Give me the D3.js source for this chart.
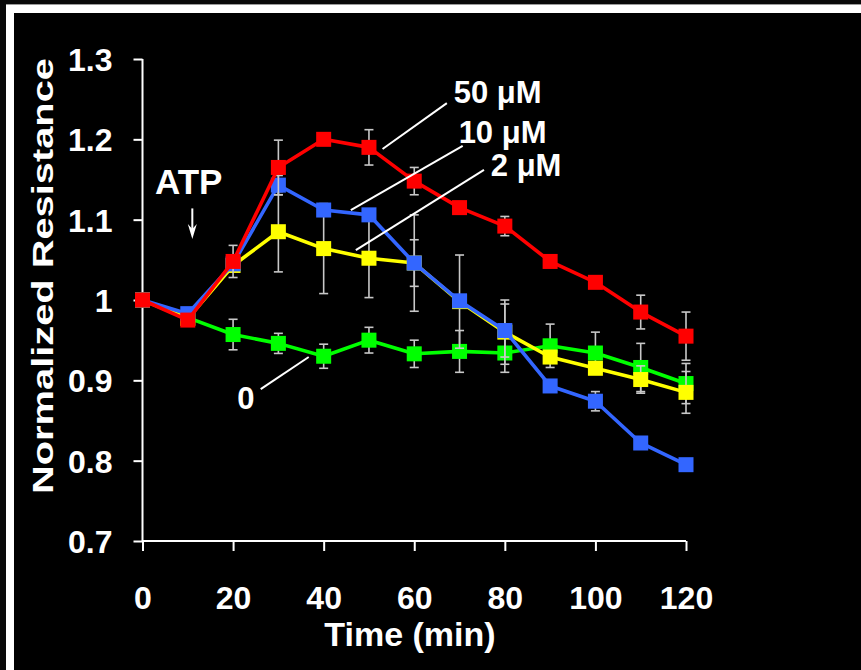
<!DOCTYPE html>
<html>
<head>
<meta charset="utf-8">
<script src="https://cdn.jsdelivr.net/npm/d3@7.9.0/dist/d3.min.js"></script>
<style>
  html, body { margin: 0; padding: 0; background: #080808; }
  svg { display: block; }
</style>
</head>
<body>
<div id="chart"></div>
<script>
/* ── data ─────────────────────────────────────────────── */
const times = [0, 10, 20, 30, 40, 50, 60, 70, 80, 90, 100, 110, 120];

const ctrl   = [1.000, 0.978, 0.957, 0.946, 0.930, 0.950, 0.933, 0.936, 0.934, 0.943, 0.934, 0.916, 0.896];
const atp2   = [1.000, 0.977, 1.043, 1.085, 1.064, 1.052, 1.046, 0.998, 0.960, 0.929, 0.915, 0.901, 0.885];
const atp10  = [1.000, 0.983, 1.045, 1.143, 1.112, 1.106, 1.046, 0.999, 0.962, 0.893, 0.874, 0.822, 0.795];
const atp50  = [1.000, 0.975, 1.048, 1.165, 1.200, 1.190, 1.148, 1.115, 1.092, 1.048, 1.022, 0.985, 0.955];

// error bars (± value)
const ctrlErr  = [0, 0, 0.019, 0.0125, 0.015, 0.016, 0.017, 0.026, 0.024, 0.027, 0.026, 0.030, 0.025];
const atp2Err  = [0, 0, 0, 0.050, 0.056, 0.049, 0.060, 0.058, 0.040, 0, 0, 0.017, 0.026];
const atp10Err = [0, 0, 0, 0.012, 0, 0, 0.029, 0, 0.033, 0, 0.012, 0, 0];
const atp50Err = [0, 0, 0.020, 0.034, 0, 0.022, 0.017, 0, 0.012, 0, 0, 0.021, 0.030];

const yTicks = [0.7, 0.8, 0.9, 1, 1.1, 1.2, 1.3];
const xTicks = [0, 20, 40, 60, 80, 100, 120];

// series in drawing order
const series = [
  { name: '0',     values: ctrl,  err: ctrlErr,  color: '#00ff00' },
  { name: '2 μM',  values: atp2,  err: atp2Err,  color: '#ffff00' },
  { name: '10 μM', values: atp10, err: atp10Err, color: '#3366ff' },
  { name: '50 μM', values: atp50, err: atp50Err, color: '#ff0000' }
];

// callout labels: text position + leader line (data units)
const callouts = [
  { text: '50 μM', tx: 68.7, ty: 1.245, anchor: 'start',  line: [[67.2, 1.245], [53.0, 1.188]] },
  { text: '10 μM', tx: 69.8, ty: 1.196, anchor: 'start',  line: [[70.7, 1.192], [46.0, 1.112]] },
  { text: '2 μM',  tx: 76.9, ty: 1.154, anchor: 'start',  line: [[75.4, 1.162], [47.1, 1.062]] },
  { text: '0',     tx: 22.8, ty: 0.864, anchor: 'middle', line: [[36.7, 0.929], [26.1, 0.889]] }
];

/* ── layout ───────────────────────────────────────────── */
const width = 861, height = 670;
const font = "'Liberation Sans', Arial, Helvetica, sans-serif";

const svg = d3.select('#chart').append('svg')
  .attr('width', width)
  .attr('height', height)
  .style('font-family', font);

// frame: grey hairline, white band on top and left, black panel
svg.append('rect').attr('x', 0).attr('y', 0).attr('width', width).attr('height', height).attr('fill', '#080808');
svg.append('rect').attr('x', 6).attr('y', 4).attr('width', width - 6).attr('height', 1).attr('fill', '#9a9a9a');
svg.append('rect').attr('x', 6).attr('y', 5).attr('width', width - 6).attr('height', height - 5).attr('fill', '#ffffff');
svg.append('rect').attr('x', 14).attr('y', 13).attr('width', width - 14).attr('height', height - 13).attr('fill', '#000000');

const x = d3.scaleLinear().domain([0, 120]).range([142.5, 686]);
const y = d3.scaleLinear().domain([0.7, 1.3]).range([541, 59]);

/* ── axes ─────────────────────────────────────────────── */
const yAxis = svg.append('g')
  .attr('transform', `translate(${x(0)},0)`)
  .call(d3.axisLeft(y).tickValues(yTicks).tickSize(9).tickPadding(21)
          .tickFormat(d => d3.format('~g')(d)));

const xAxis = svg.append('g')
  .attr('transform', `translate(0,${y(0.7)})`)
  .call(d3.axisBottom(x).tickValues(xTicks).tickSize(10).tickPadding(58));

[yAxis, xAxis].forEach(g => {
  g.select('.domain').attr('stroke', '#fff').attr('stroke-width', 2);
  g.selectAll('.tick line').attr('stroke', '#fff').attr('stroke-width', 2);
  g.selectAll('.tick text')
    .attr('fill', '#fff')
    .style('font-family', font)
    .style('font-weight', 'bold')
    .style('font-size', '32px');
});
// y axis runs straight, no outer end ticks
yAxis.select('.domain').attr('d', `M0,${y(1.3)}V${y(0.7)}`);
yAxis.selectAll('.tick text').attr('dy', '0.36em');
xAxis.select('.domain').attr('d', `M0,0H${x(120) - x(0)}`).attr('transform', `translate(${x(0)},0)`);
xAxis.selectAll('.tick text').attr('dy', '0');

// axis titles
svg.append('text')
  .attr('transform', `translate(53,276) rotate(-90)`)
  .attr('text-anchor', 'middle')
  .attr('textLength', 436)
  .attr('lengthAdjust', 'spacingAndGlyphs')
  .attr('fill', '#fff')
  .style('font-weight', 'bold')
  .style('font-size', '30px')
  .text('Normalized Resistance');

svg.append('text')
  .attr('x', 410)
  .attr('y', 646)
  .attr('text-anchor', 'middle')
  .attr('fill', '#fff')
  .style('font-weight', 'bold')
  .style('font-size', '34px')
  .text('Time (min)');

/* ── series ───────────────────────────────────────────── */
const line = d3.line().x(d => x(d[0])).y(d => y(d[1]));
const box = 15, cap = 4.5;

series.forEach(s => {
  const pts = times.map((t, i) => ({ t, v: s.values[i], e: s.err[i] }));
  const g = svg.append('g');

  const eb = g.selectAll('g.err')
    .data(pts.filter(p => p.e > 0))
    .join('g')
      .attr('class', 'err')
      .attr('stroke', '#c8c8c8')
      .attr('stroke-width', 1.6);
  eb.append('line')
    .attr('x1', p => x(p.t)).attr('x2', p => x(p.t))
    .attr('y1', p => y(p.v + p.e)).attr('y2', p => y(p.v - p.e));
  eb.append('line')
    .attr('x1', p => x(p.t) - cap).attr('x2', p => x(p.t) + cap)
    .attr('y1', p => y(p.v + p.e)).attr('y2', p => y(p.v + p.e));
  eb.append('line')
    .attr('x1', p => x(p.t) - cap).attr('x2', p => x(p.t) + cap)
    .attr('y1', p => y(p.v - p.e)).attr('y2', p => y(p.v - p.e));

  g.append('path')
    .attr('d', line(pts.map(p => [p.t, p.v])))
    .attr('fill', 'none')
    .attr('stroke', s.color)
    .attr('stroke-width', 3.6)
    .attr('stroke-linejoin', 'round');

  g.selectAll('rect')
    .data(pts)
    .join('rect')
      .attr('x', p => x(p.t) - box / 2)
      .attr('y', p => y(p.v) - box / 2)
      .attr('width', box)
      .attr('height', box)
      .attr('fill', s.color);
});

/* ── annotations ──────────────────────────────────────── */
callouts.forEach(c => {
  svg.append('line')
    .attr('x1', x(c.line[0][0])).attr('y1', y(c.line[0][1]))
    .attr('x2', x(c.line[1][0])).attr('y2', y(c.line[1][1]))
    .attr('stroke', '#fff')
    .attr('stroke-width', 2);
  svg.append('text')
    .attr('x', x(c.tx))
    .attr('y', y(c.ty))
    .attr('text-anchor', c.anchor)
    .attr('fill', '#fff')
    .style('font-weight', 'bold')
    .style('font-size', '31px')
    .text(c.text);
});

// ATP marker with small down arrow
svg.append('text')
  .attr('x', x(10.2))
  .attr('y', y(1.132))
  .attr('text-anchor', 'middle')
  .attr('fill', '#fff')
  .style('font-weight', 'bold')
  .style('font-size', '35px')
  .text('ATP');

const ax = x(11), aTop = y(1.114), aBot = y(1.076);
svg.append('line')
  .attr('x1', ax).attr('x2', ax)
  .attr('y1', aTop).attr('y2', aBot - 6)
  .attr('stroke', '#fff').attr('stroke-width', 2);
svg.append('path')
  .attr('d', `M${ax - 4.5},${aBot - 15}L${ax},${aBot}L${ax + 4.5},${aBot - 15}L${ax},${aBot - 10}Z`)
  .attr('fill', '#fff');
</script>
</body>
</html>
